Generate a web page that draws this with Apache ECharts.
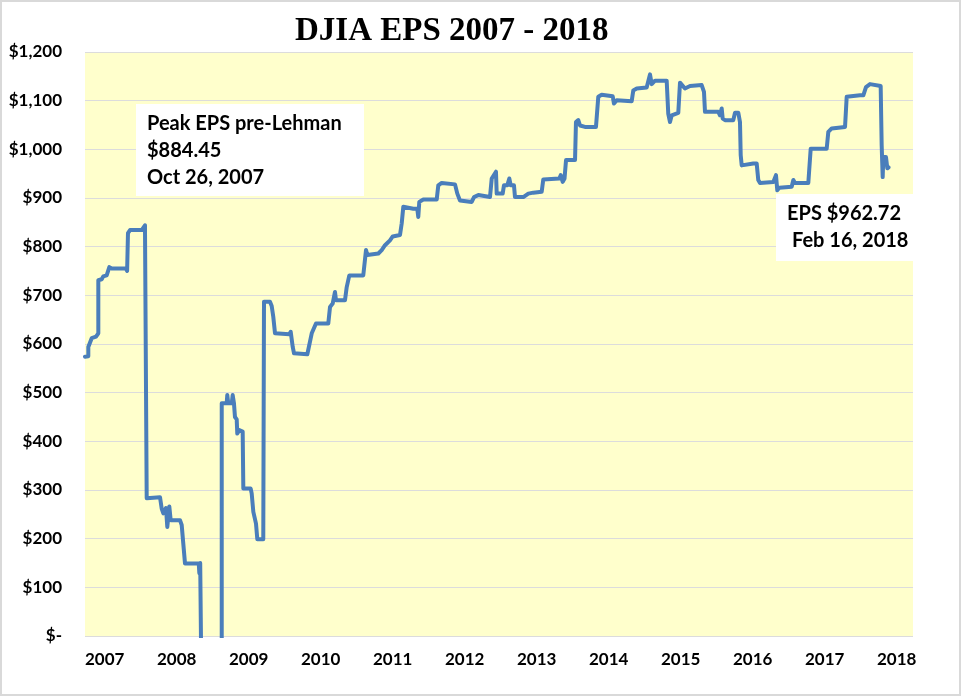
<!DOCTYPE html>
<html>
<head>
<meta charset="utf-8">
<script src="https://cdn.jsdelivr.net/npm/echarts@6/dist/echarts.min.js"></script>
<style>
html,body{margin:0;padding:0;background:#fff;}
#chart{width:962px;height:697px;}
</style>
</head>
<body>
<div id="chart"></div>
<script>
// Fractional year of each point
const years = [
2007.000,2007.046,2007.046,2007.093,2007.153,2007.185,2007.185,2007.232,2007.254,2007.301,
2007.338,2007.371,2007.569,2007.585,2007.597,2007.597,2007.625,2007.788,2007.810,2007.833,
2007.857,2007.857,2008.042,2008.065,2008.088,2008.125,2008.143,2008.171,2008.190,2008.319,
2008.343,2008.365,2008.389,2008.580,2008.588,2008.600,2008.621,2008.621,2008.899,2008.899,
2008.968,2008.976,2008.990,2009.038,2009.051,2009.069,2009.083,2009.107,2009.115,2009.143,
2009.190,2009.199,2009.301,2009.315,2009.338,2009.375,2009.393,2009.476,2009.486,2009.486,
2009.569,2009.593,2009.615,2009.639,2009.838,2009.857,2009.885,2009.903,2010.088,2010.115,
2010.149,2010.170,2010.208,2010.379,2010.403,2010.440,2010.472,2010.486,2010.611,2010.635,
2010.671,2010.865,2010.903,2010.921,2011.074,2011.121,2011.167,2011.236,2011.274,2011.375,
2011.399,2011.421,2011.560,2011.615,2011.629,2011.643,2011.699,2011.885,2011.907,2011.954,
2012.139,2012.171,2012.208,2012.371,2012.403,2012.463,2012.625,2012.649,2012.708,2012.718,
2012.801,2012.819,2012.865,2012.893,2012.913,2012.958,2012.972,2013.088,2013.157,2013.226,
2013.343,2013.365,2013.588,2013.607,2013.635,2013.660,2013.681,2013.806,2013.819,2013.851,
2013.875,2013.944,2014.097,2014.129,2014.176,2014.329,2014.347,2014.385,2014.593,2014.615,
2014.663,2014.801,2014.847,2014.871,2014.917,2015.079,2015.101,2015.125,2015.149,2015.240,
2015.264,2015.333,2015.403,2015.565,2015.597,2015.611,2015.796,2015.819,2015.843,2015.857,
2015.889,2016.004,2016.028,2016.074,2016.097,2016.107,2016.121,2016.282,2016.329,2016.351,
2016.375,2016.560,2016.597,2016.615,2016.643,2016.815,2016.838,2016.861,2017.046,2017.079,
2017.301,2017.324,2017.371,2017.556,2017.579,2017.764,2017.787,2017.810,2017.847,2017.903,
2018.051,2018.065,2018.079,2018.088,2018.125,2018.143,2018.160
];
// DJIA trailing EPS in dollars at each point
const eps = [
574,575,594,612,615,622,731,733,739,741,
758,755,755,750,752,828,834,834,830,844,
844,283,285,262,252,263,224,266,238,238,
228,190,149,149,129,150,150,-150,-150,478,
478,495,478,478,495,478,450,445,416,423,
420,303,303,293,255,231,199,199,199,687,
687,678,656,622,620,625,594,581,579,598,
622,620,642,642,676,683,707,690,690,717,
741,741,793,783,786,793,803,813,821,824,
848,882,878,878,861,892,897,897,926,931,
928,909,895,892,902,906,902,940,954,909,
909,926,926,940,926,926,902,902,909,911,
913,938,940,947,933,940,978,978,1056,1060,
1049,1046,1046,1108,1112,1109,1094,1101,1099,1121,
1125,1127,1154,1134,1141,1141,1073,1056,1070,1075,
1137,1125,1130,1132,1118,1077,1077,1070,1084,1063,
1060,1060,1075,1075,1056,988,967,971,971,937,
931,933,947,916,921,923,937,931,931,1001,
1001,1036,1043,1046,1108,1111,1115,1111,1128,1134,
1130,1008,943,984,984,961,963
];
const yearTicks = [2007,2008,2009,2010,2011,2012,2013,2014,2015,2016,2017,2018];
const yMin = 0, yMax = 1200, yStep = 100;
const titleText = 'DJIA EPS 2007 - 2018';
const note1 = ['Peak EPS pre-Lehman', '$884.45', 'Oct 26, 2007'];
const note2 = ['EPS $962.72', 'Feb 16, 2018'];

const data = years.map((x, i) => [x, eps[i]]);

function money(v) {
  if (v === 0) return '$-';
  return '$' + String(v).replace(/\B(?=(\d{3})+(?!\d))/g, ',');
}

const chart = echarts.init(document.getElementById('chart'), null, {renderer: 'canvas'});
const lbl = {fontFamily: 'Lato', fontWeight: 'bold', fontSize: 20, fill: '#000'};

chart.setOption({
  animation: false,
  backgroundColor: '#ffffff',
  grid: {left: 85, right: 49, top: 52, bottom: 61, show: true,
         backgroundColor: '#FFFFCC', borderWidth: 0},
  xAxis: {
    type: 'value', min: 2007, max: 2018.5, interval: 1,
    axisLine: {show: false}, axisTick: {show: false}, splitLine: {show: false},
    axisLabel: {
      align: 'left', margin: 15, color: '#000', fontFamily: 'Lato', fontWeight: 'bold', fontSize: 17,
      formatter: v => (yearTicks.indexOf(Math.round(v)) >= 0 && Math.abs(v - Math.round(v)) < 1e-6) ? String(Math.round(v)) : ''
    }
  },
  yAxis: {
    type: 'value', min: yMin, max: yMax, interval: yStep,
    axisLine: {show: false}, axisTick: {show: false},
    splitLine: {show: true, lineStyle: {color: '#DCDCDC', width: 1}},
    axisLabel: {margin: 23, color: '#000', fontFamily: 'Lato', fontWeight: 'bold', fontSize: 17, formatter: money}
  },
  series: [{
    type: 'line', data: data, showSymbol: false, clip: true,
    lineStyle: {color: '#4A7EBB', width: 4, join: 'round', cap: 'round'}
  }],
  graphic: [
    {type: 'rect', shape: {x: 1, y: 1, width: 959, height: 694}, style: {fill: 'none', stroke: '#D9D9D9', lineWidth: 2}, z: 100},
    {type: 'text', x: 295, y: 31, style: {text: titleText, fontFamily: 'Liberation Serif', fontWeight: 'bold', fontSize: 33, fill: '#000', verticalAlign: 'middle'}},
    {type: 'rect', shape: {x: 136, y: 104, width: 228, height: 92}, style: {fill: '#fff'}, z: 50},
    {type: 'text', x: 147, y: 124, z: 51, style: Object.assign({text: note1[0], verticalAlign: 'middle'}, lbl)},
    {type: 'text', x: 147, y: 151, z: 51, style: Object.assign({text: note1[1], verticalAlign: 'middle'}, lbl)},
    {type: 'text', x: 147, y: 178, z: 51, style: Object.assign({text: note1[2], verticalAlign: 'middle'}, lbl)},
    {type: 'rect', shape: {x: 776, y: 194, width: 137, height: 67}, style: {fill: '#fff'}, z: 50},
    {type: 'text', x: 787, y: 214, z: 51, style: Object.assign({text: note2[0], verticalAlign: 'middle'}, lbl)},
    {type: 'text', x: 792, y: 241, z: 51, style: Object.assign({text: note2[1], verticalAlign: 'middle'}, lbl)}
  ]
});
</script>
</body>
</html>
